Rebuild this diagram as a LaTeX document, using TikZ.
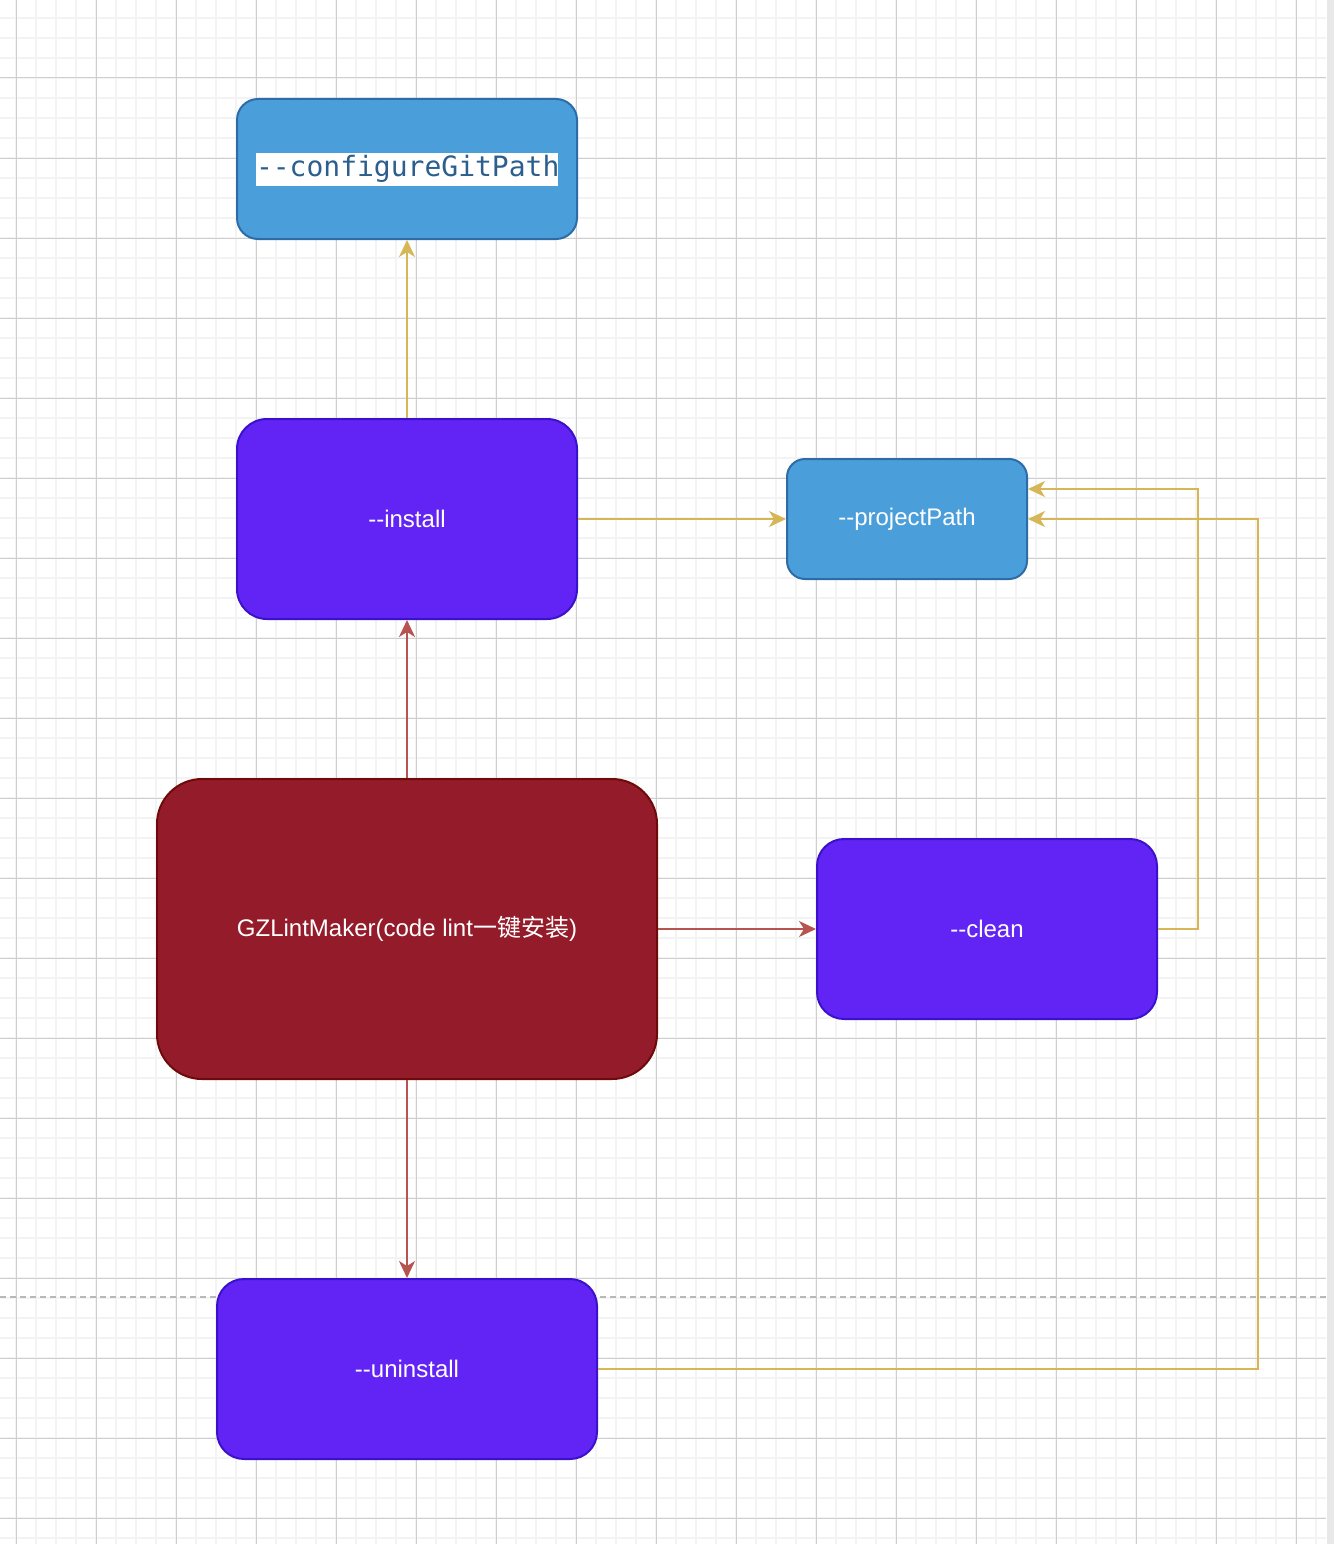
\documentclass[tikz,border=0pt]{standalone}
\usepackage{fontspec}
\setmainfont{Liberation Sans}[Ligatures=TeXOff]
\setmonofont{DejaVu Sans Mono}
\newfontfamily\cjk{Noto Sans CJK SC}
\usetikzlibrary{arrows.meta}
\definecolor{optblue}{HTML}{4A9EDA}
\definecolor{optbluedark}{HTML}{2D6CA6}
\definecolor{cmdviolet}{HTML}{6224F5}
\definecolor{cmdvioletdark}{HTML}{3A12CC}
\definecolor{mainred}{HTML}{941C2A}
\definecolor{mainreddark}{HTML}{6F0A0A}
\definecolor{linkgold}{HTML}{D6B656}
\definecolor{linkred}{HTML}{B85450}
\definecolor{pathtext}{HTML}{2C5F8E}
\definecolor{minorgrid}{HTML}{F3F3F3}
\definecolor{majorgrid}{HTML}{CFCFCF}

\begin{document}
\begin{tikzpicture}[x=1pt,y=-1pt,
		label/.style={inner sep=0pt,text=white,font=\fontsize{24}{28}\selectfont},
		optbox/.style={label,draw=optbluedark,fill=optblue,line width=2pt},
		cmdbox/.style={label,draw=cmdvioletdark,fill=cmdviolet,line width=2pt},
		mainbox/.style={label,draw=mainreddark,fill=mainred,line width=2pt},
		goldlink/.style={draw=linkgold,line width=2pt,-{Stealth[length=17pt,width=16pt,inset=5pt]}},
		redlink/.style={draw=linkred,line width=2pt,-{Stealth[length=17pt,width=16pt,inset=5pt]}}]
				%%%%% START %%%%%
				\useasboundingbox (0,0) rectangle (1334,1544);
				\fill[white] (0,0) rectangle (1334,1544);

				% background grid
				\foreach \gx in {16,36,...,1316} \draw[minorgrid,line width=2pt] (\gx,0) -- (\gx,1544);
				\foreach \gy in {18,38,...,1538} \draw[minorgrid,line width=2pt] (0,\gy) -- (1326,\gy);
				\foreach \gx in {16,96,...,1296} \draw[majorgrid,line width=1pt] (\gx,0) -- (\gx,1544);
				\foreach \gy in {78,158,...,1518} \draw[majorgrid,line width=1pt] (0,\gy) -- (1326,\gy);
				\fill[black!9] (1327,0) rectangle (1334,1544);

				% page break
				\draw[black!28,line width=1.5pt,dash pattern=on 6pt off 4pt] (0,1297) -- (1326,1297);

				\node[optbox,rounded corners=21pt,minimum width=340pt,minimum height=140pt] (gitpath) at (407,169)
					{\setlength{\fboxsep}{0pt}\colorbox{white}{\parbox[c][33pt]{302pt}{\centering\color{pathtext}\ttfamily\fontsize{28}{33}\selectfont --configureGitPath}}};
				\node[cmdbox,rounded corners=30pt,minimum width=340pt,minimum height=200pt] (install) at (407,519) {--install};
				\node[optbox,rounded corners=18pt,minimum width=240pt,minimum height=120pt] (projpath) at (907,519) {--projectPath\vphantom{l}};
				\node[mainbox,rounded corners=45pt,minimum width=500pt,minimum height=300pt] (maker) at (407,929) {GZLintMaker(code lint{\cjk 一键安装})};
				\node[cmdbox,rounded corners=27pt,minimum width=340pt,minimum height=180pt] (clean) at (987,929) {--clean};
				\node[cmdbox,rounded corners=27pt,minimum width=380pt,minimum height=180pt] (uninstall) at (407,1369) {--uninstall};

				\draw[redlink] (maker.north) -- (install.south);
				\draw[redlink] (maker.east) -- (clean.west);
				\draw[redlink] (maker.south) -- (uninstall.north);

				\draw[goldlink] (install.north) -- (gitpath.south);
				\draw[goldlink] (install.east) -- (projpath.west);
				\draw[goldlink] (clean.east) -- ++(40,0) |- ([yshift=30pt]projpath.east);
				\draw[goldlink] (uninstall.east) -- ++(660,0) |- (projpath.east);
				%%%%% START %%%%%
\end{tikzpicture}
\end{document}
